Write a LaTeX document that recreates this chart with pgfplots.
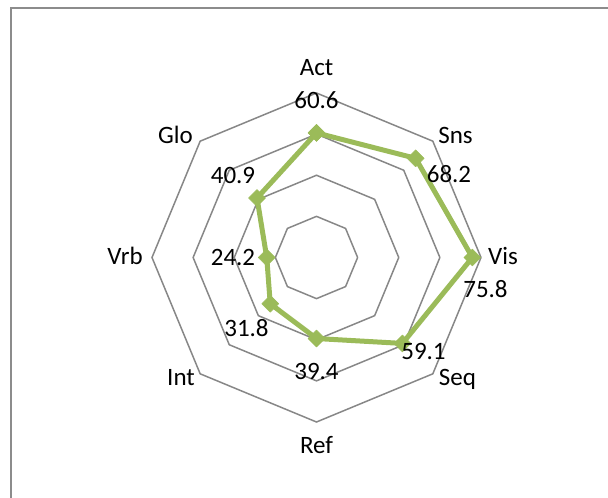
\documentclass[border=0pt]{standalone}
\usepackage{fontspec}
\setmainfont{Carlito}
\usepackage{pgfplots}
\pgfplotsset{compat=1.18}
\usepgfplotslibrary{polar}
\definecolor{grn}{HTML}{9BBB59}
\definecolor{grd}{HTML}{878787}
\definecolor{frm}{HTML}{8C8C8C}
\begin{document}
\begin{tikzpicture}
\fontsize{25}{30}\selectfont
\begin{polaraxis}[
  hide axis,
  clip=false,
  scale only axis,
  width=329pt, height=329pt,
  xmin=0, xmax=360,
  ymin=0, ymax=80,
]
% grid octagons
\addplot[grd, line width=1.5pt, no marks] coordinates {(0,20)(45,20)(90,20)(135,20)(180,20)(225,20)(270,20)(315,20)(360,20)};
\addplot[grd, line width=1.5pt, no marks] coordinates {(0,40)(45,40)(90,40)(135,40)(180,40)(225,40)(270,40)(315,40)(360,40)};
\addplot[grd, line width=1.5pt, no marks] coordinates {(0,60)(45,60)(90,60)(135,60)(180,60)(225,60)(270,60)(315,60)(360,60)};
\addplot[grd, line width=1.5pt, no marks] coordinates {(0,80)(45,80)(90,80)(135,80)(180,80)(225,80)(270,80)(315,80)(360,80)};
% data
\addplot[grn, line width=5pt, line join=round, mark=square*, mark size=6pt,
  mark options={rotate=45, fill=grn, draw=grn, line width=0.5pt}]
  coordinates {(90,60.6)(45,68.2)(0,75.8)(-45,59.1)(-90,39.4)(-135,31.8)(-180,24.2)(-225,40.9)(-270,60.6)};
\coordinate (C) at (axis cs:0,0);
\end{polaraxis}
\pgfresetboundingbox
\path[use as bounding box] ([shift={(-316.5pt,-240.5pt)}]C) rectangle ([shift={(291.5pt,257.5pt)}]C);
\draw[frm, line width=2pt] ([shift={(-305.2pt,-260pt)}]C) -- ([shift={(-305.2pt,249.8pt)}]C) -- ([shift={(300pt,249.8pt)}]C);
% category labels
\node[anchor=base] at ([shift={(0pt,181.5pt)}]C) {Act};
\node[anchor=base] at ([shift={(139pt,113.5pt)}]C) {Sns};
\node[anchor=base] at ([shift={(186.5pt,-7pt)}]C) {Vis};
\node[anchor=base] at ([shift={(141pt,-128.5pt)}]C) {Seq};
\node[anchor=base] at ([shift={(0pt,-195.5pt)}]C) {Ref};
\node[anchor=base] at ([shift={(-135.5pt,-128pt)}]C) {Int};
\node[anchor=base] at ([shift={(-191.5pt,-7pt)}]C) {Vrb};
\node[anchor=base] at ([shift={(-141pt,113.5pt)}]C) {Glo};
% data labels
\node[anchor=base] at ([shift={(0pt,148.5pt)}]C) {60.6};
\node[anchor=base] at ([shift={(132.5pt,74.5pt)}]C) {68.2};
\node[anchor=base] at ([shift={(169pt,-40.5pt)}]C) {75.8};
\node[anchor=base] at ([shift={(107pt,-102.5pt)}]C) {59.1};
\node[anchor=base] at ([shift={(0pt,-122.5pt)}]C) {39.4};
\node[anchor=base] at ([shift={(-70pt,-79.5pt)}]C) {31.8};
\node[anchor=base] at ([shift={(-83.5pt,-8pt)}]C) {24.2};
\node[anchor=base] at ([shift={(-83.5pt,73.5pt)}]C) {40.9};
\end{tikzpicture}
\end{document}
